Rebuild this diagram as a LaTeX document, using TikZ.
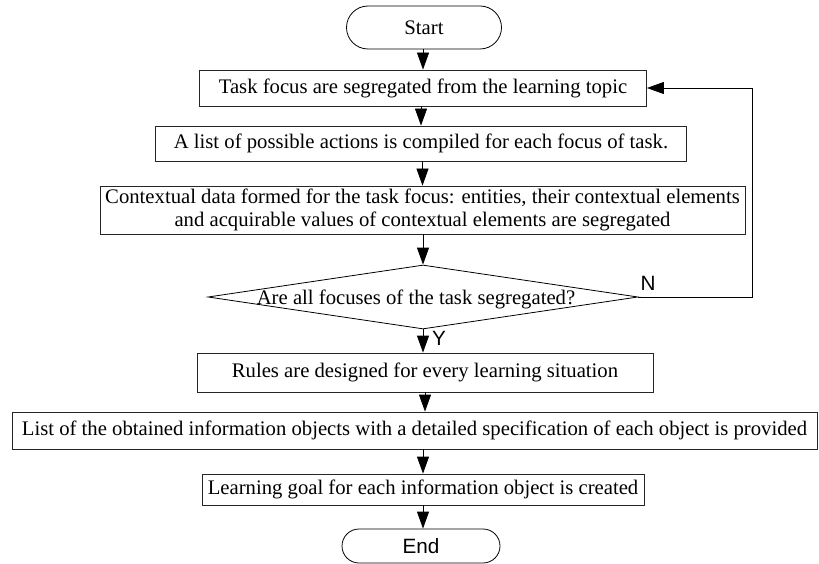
\documentclass[tikz,border=0pt]{standalone}
\usepackage{fontspec}
\setmainfont{Liberation Serif}
\newfontfamily\arialfont{Liberation Sans}
\usetikzlibrary{shapes.geometric,shapes.misc,arrows.meta}
\begin{document}
\begin{tikzpicture}[x=1pt,y=-1pt,
  every node/.style={font=\fontsize{20.7}{23.5}\selectfont},
  box/.style={draw=black!85, line width=0.8pt, rectangle, inner sep=0pt, align=center},
  term/.style={draw=black, line width=0.8pt, rounded rectangle, inner sep=0pt},
  decision/.style={draw=black, line width=0.8pt, diamond, inner sep=0pt},
  arr/.style={draw=black, line width=0.8pt, -{Triangle[length=17pt,width=12pt]}},
  lab/.style={font=\arialfont\fontsize{20.7}{23.5}\selectfont, inner sep=0pt}]
\useasboundingbox (0,0) rectangle (819,564);

\node[term, minimum width=155pt, minimum height=43pt] (start) at (424,27.5) {Start};
\node[box, minimum width=447pt, minimum height=36pt] (b1) at (423,88) {Task focus are segregated from the learning topic};
\node[box, minimum width=531pt, minimum height=35pt] (b2) at (421,143.5) {A list of possible actions is compiled for each focus of task.};
\node[box, minimum width=645pt, minimum height=48pt] (b3) at (422.5,210) {Contextual data formed for the task focus: entities, their contextual elements\\and acquirable values of contextual elements are segregated};
\node[decision, minimum width=430pt, minimum height=64pt] (dec) at (423,297) {};
\node[anchor=base, inner sep=0pt] (dtext) at (416,304) {Are all focuses of the task segregated?};
\node[box, minimum width=456pt, minimum height=39pt] (rules) at (425,372.5) {Rules are designed for every learning situation};
\node[box, minimum width=805pt, minimum height=37pt] (list) at (414.5,430.5) {List of the obtained information objects with a detailed specification of each object is provided};
\node[box, minimum width=442pt, minimum height=31pt] (goal) at (423,489.5) {Learning goal for each information object is created};
\node[term, minimum width=158pt, minimum height=34pt, font=\arialfont\fontsize{20.7}{23.5}\selectfont] (end) at (421,546) {End};

\coordinate (loopc) at (752,297);

\draw[arr] (start.south -| b1.north) -- (b1.north);
\draw[arr] (b1.south -| b2.north) -- (b2.north);
\draw[arr] (b2.south -| b3.north) -- (b3.north);
\draw[arr] (b3.south -| dec.north) -- (dec.north);
\draw[arr] (dec.south) -- (dec.south |- rules.north);
\draw[arr] (rules.south) -- (rules.south |- list.north);
\draw[arr] (goal.north |- list.south) -- (goal.north);
\draw[arr] (goal.south) -- (goal.south |- end.north);
\draw[arr] (dec.east) -- (loopc) |- (b1.east);

\node[lab] (nlab) at (648,283) {N};
\node[lab] (ylab) at (439,338) {Y};
\end{tikzpicture}
\end{document}
